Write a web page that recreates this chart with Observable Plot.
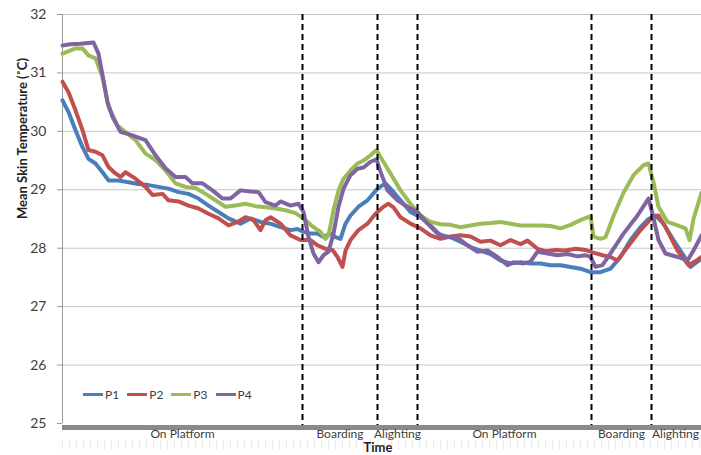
<!DOCTYPE html>
<html>
<head>
<meta charset="utf-8">
<script src="https://cdn.jsdelivr.net/npm/d3@7"></script>
<script src="https://cdn.jsdelivr.net/npm/@observablehq/plot@0.6"></script>
<style>
  html, body { margin: 0; padding: 0; background: #fff; }
  #wrap { position: relative; width: 701px; height: 455px; font-family: Lato, "Open Sans", sans-serif; }
  #legend { position: absolute; left: 83px; top: 387px; display: flex; gap: 8px; font-size: 12px; color: #404040; }
  #legend .item { display: flex; align-items: center; }
  #legend .sw { width: 20px; height: 3px; margin-right: 2px; }
</style>
</head>
<body>
<div id="wrap"></div>
<script>
// Time index (arbitrary sample units) and mean skin temperature (°C) per participant
const seriesNames = ["P1", "P2", "P3", "P4"];
const seriesColors = ["#4a7ebb", "#c0504d", "#9bbb59", "#8064a2"];

const p1T = [0,0.6,1.3,2.0,2.6,3.3,4.0,4.6,5.6,6.6,7.6,8.6,9.6,10.6,11.6,12.6,13.6,14.6,15.6,16.6,17.8,18.8,19.8,20.8,21.8,22.8,23.5,24.1,24.8,25.5,26.1,26.8,27.3,27.8,28.3,28.8,29.6,30.5,31.5,32.3,32.8,33.8,34.8,35.8,36.8,37.8,38.8,39.8,40.8,41.8,42.8,43.8,44.8,45.8,46.8,47.8,48.8,49.8,50.8,51.8,52.8,53.8,54.8,55.8,56.8,57.8,58.6,59.3,60.1,61.1,62.1,62.8,63.9];
const p1V = [30.53,30.33,30.02,29.73,29.53,29.45,29.30,29.16,29.16,29.13,29.10,29.08,29.05,29.02,28.96,28.93,28.85,28.73,28.62,28.51,28.42,28.51,28.45,28.42,28.36,28.31,28.33,28.28,28.25,28.25,28.19,28.25,28.19,28.16,28.42,28.56,28.71,28.82,29.02,29.11,29.02,28.82,28.62,28.53,28.39,28.22,28.19,28.11,28.02,27.96,27.90,27.79,27.74,27.76,27.74,27.74,27.71,27.71,27.68,27.65,27.59,27.59,27.65,27.85,28.14,28.36,28.50,28.56,28.42,28.14,27.88,27.68,27.82];

const p2T = [0,0.6,1.3,2.0,2.6,3.3,4.0,4.6,5.3,5.8,6.3,7.3,8.3,9.0,10.0,10.6,11.6,12.6,13.6,14.6,15.6,16.6,17.5,18.3,19.1,19.8,20.3,20.8,21.8,22.8,23.8,24.8,25.5,26.3,27.0,27.5,28.0,28.3,28.8,29.6,30.5,31.3,32.1,32.6,33.1,33.8,34.8,35.8,36.8,37.8,38.8,39.8,40.8,41.8,42.8,43.8,44.8,45.8,46.5,47.5,48.3,49.3,50.3,51.3,52.3,53.0,54.0,54.8,55.5,56.5,57.8,59.0,59.6,60.3,61.5,62.6,63.5,63.9];
const p2V = [30.85,30.67,30.36,30.02,29.68,29.65,29.59,29.39,29.28,29.22,29.30,29.19,29.05,28.91,28.93,28.82,28.80,28.73,28.68,28.59,28.51,28.39,28.45,28.53,28.48,28.31,28.48,28.53,28.42,28.22,28.14,28.14,28.05,27.99,27.97,27.85,27.68,27.96,28.14,28.31,28.42,28.59,28.71,28.76,28.70,28.53,28.42,28.34,28.22,28.16,28.20,28.22,28.20,28.11,28.13,28.05,28.14,28.07,28.13,27.99,27.95,27.97,27.96,27.99,27.97,27.93,27.88,27.85,27.79,28.02,28.31,28.53,28.56,28.36,27.96,27.71,27.80,27.85];

const p3T = [0,1.3,2.0,2.6,3.3,4.0,4.6,5.5,6.3,7.3,8.3,9.3,10.3,11.3,12.3,13.3,14.3,15.3,16.3,17.3,18.3,19.3,20.3,21.3,22.3,23.3,24.0,24.5,25.1,25.8,26.3,26.6,27.1,27.6,28.1,28.8,29.5,30.1,30.8,31.4,31.8,32.8,33.8,34.8,35.8,36.8,37.8,38.8,39.8,40.8,41.8,42.8,43.8,44.8,45.8,46.8,47.8,48.8,49.8,50.8,51.8,52.8,53.1,53.8,54.3,55.1,56.1,57.1,58.1,58.6,59.1,59.6,60.5,61.5,62.3,62.7,63.1,63.9];
const p3V = [31.33,31.42,31.42,31.30,31.25,30.93,30.42,30.10,29.99,29.85,29.62,29.51,29.33,29.11,29.05,29.03,28.93,28.82,28.71,28.73,28.76,28.72,28.70,28.68,28.65,28.60,28.52,28.45,28.36,28.28,28.16,28.22,28.65,28.99,29.19,29.33,29.45,29.50,29.59,29.68,29.56,29.28,28.99,28.76,28.56,28.45,28.41,28.40,28.36,28.39,28.42,28.43,28.45,28.42,28.39,28.39,28.39,28.38,28.34,28.40,28.48,28.55,28.20,28.16,28.19,28.55,28.95,29.25,29.42,29.45,29.13,28.71,28.45,28.39,28.34,28.14,28.50,28.95];

const p4T = [0,0.8,1.8,3.1,3.6,4.1,4.5,5.0,5.8,7.0,7.8,8.3,9.3,10.3,11.3,12.3,13.0,14.0,15.0,16.0,16.8,17.8,18.8,19.6,20.3,21.3,21.8,22.8,23.6,24.1,24.6,25.1,25.6,26.1,26.6,27.1,27.6,28.1,28.8,29.5,30.1,30.8,31.4,31.8,32.5,33.5,34.5,35.5,36.5,37.5,38.5,39.5,40.5,41.5,42.5,43.5,44.5,45.1,46.1,46.8,47.5,48.5,49.5,50.5,51.5,52.3,52.8,53.3,54.0,54.8,56.1,57.5,58.6,59.0,59.6,60.3,61.5,62.5,63.1,63.9];
const p4V = [31.47,31.49,31.50,31.52,31.33,30.87,30.50,30.25,29.99,29.93,29.88,29.85,29.59,29.37,29.22,29.22,29.11,29.11,28.99,28.85,28.85,28.99,28.97,28.96,28.79,28.73,28.80,28.73,28.76,28.62,28.19,27.91,27.76,27.88,27.94,28.25,28.71,29.02,29.25,29.36,29.38,29.48,29.52,29.31,28.99,28.82,28.71,28.62,28.42,28.25,28.19,28.18,28.05,27.94,27.96,27.85,27.71,27.76,27.74,27.77,27.94,27.91,27.88,27.90,27.86,27.88,27.85,27.68,27.71,27.91,28.25,28.56,28.85,28.59,28.14,27.91,27.85,27.79,27.96,28.22];

// Phase boundaries (dashed lines) and phase labels
const phaseBounds = [24.0, 31.5, 35.5, 52.9, 58.9];
const phaseLabels = ["On Platform", "Boarding", "Alighting", "On Platform", "Boarding", "Alighting"];
const phaseCenters = [12.0, 27.75, 33.5, 44.2, 55.9, 61.3];

const yTicks = [25, 26, 27, 28, 29, 30, 31, 32];
const xDomain = [0, 63.9];

const allT = [p1T, p2T, p3T, p4T];
const allV = [p1V, p2V, p3V, p4V];
const rows = [];
seriesNames.forEach((name, s) => {
  allT[s].forEach((t, i) => rows.push({series: name, t, v: allV[s][i]}));
});

const faintTicks = d3.range(0, 64, 0.7);
const font = "Lato, 'Open Sans', sans-serif";

const chart = Plot.plot({
  width: 701,
  height: 455,
  marginTop: 14,
  marginBottom: 32,
  marginLeft: 62,
  marginRight: 0,
  style: {fontFamily: font, background: "#fff", overflow: "visible"},
  x: {domain: xDomain, axis: null},
  y: {domain: [25, 32], ticks: yTicks, axis: null},
  color: {domain: seriesNames, range: seriesColors},
  marks: [
    Plot.gridY(yTicks.filter(d => d > 25), {stroke: "#c6c6c6", strokeOpacity: 1, strokeWidth: 1}),
    Plot.axisY({ticks: yTicks, tickFormat: "d", tickSize: 5, tickPadding: 11, stroke: "#9a9a9a", fontSize: 14, fill: "#404040", label: null}),
    Plot.ruleX([0], {stroke: "#9a9a9a", strokeWidth: 1}),
    // faint dense tick marks under the time axis
    Plot.ruleX(faintTicks, {x: d => d, y1: 24.71, y2: 24.55, stroke: "#ececec", strokeWidth: 1.2}),
    Plot.line(rows, {x: "t", y: "v", stroke: "series", strokeWidth: 4, curve: "linear", strokeLinejoin: "round", strokeLinecap: "round"}),
    Plot.ruleX(phaseBounds, {stroke: "#000", strokeWidth: 2, strokeDasharray: "6,4", y1: 32, y2: 25, insetBottom: -3}),
    Plot.ruleY([25], {stroke: "#8a8a8a", strokeWidth: 5, dy: 4}),
    Plot.text(phaseLabels, {x: (d, i) => phaseCenters[i], frameAnchor: "bottom", dy: 14, fill: "#404040", fontSize: 12}),
    Plot.text(["Time"], {frameAnchor: "bottom", dx: -4, dy: 28, fontWeight: "bold", fontSize: 13, fill: "#222"}),
    Plot.text(["Mean Skin Temperature (˚C)"], {frameAnchor: "left", dx: -40, rotate: -90, fontWeight: "bold", fontSize: 13, fill: "#222"})
  ]
});

const wrap = document.getElementById("wrap");
wrap.appendChild(chart);

const legend = document.createElement("div");
legend.id = "legend";
seriesNames.forEach((name, i) => {
  const item = document.createElement("div");
  item.className = "item";
  const sw = document.createElement("span");
  sw.className = "sw";
  sw.style.background = seriesColors[i];
  const lab = document.createElement("span");
  lab.textContent = name;
  item.appendChild(sw);
  item.appendChild(lab);
  legend.appendChild(item);
});
wrap.appendChild(legend);
</script>
</body>
</html>
